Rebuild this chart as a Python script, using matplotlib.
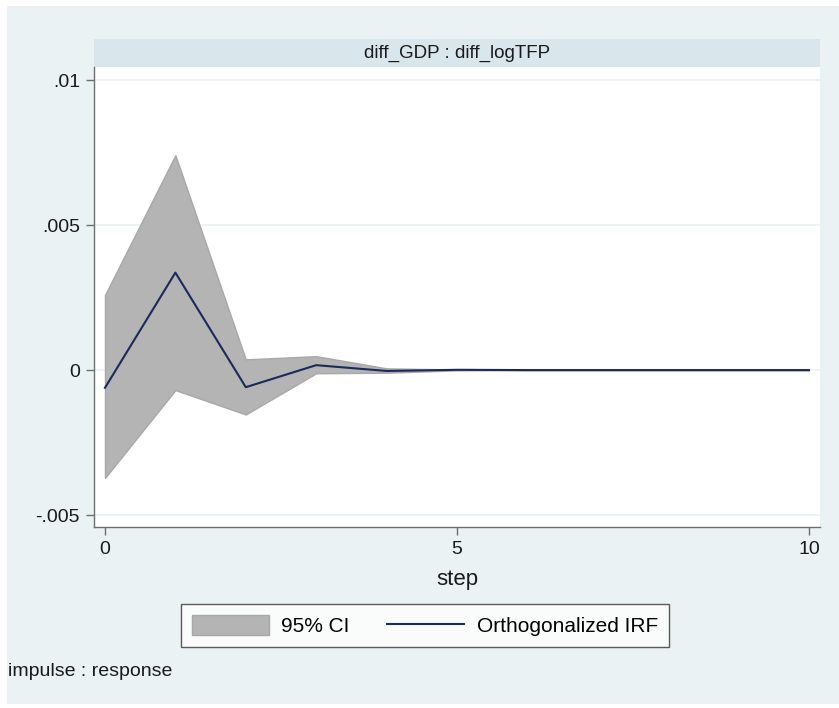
import matplotlib
matplotlib.use("Agg")
import matplotlib.pyplot as plt
from matplotlib.patches import Rectangle, Patch
from matplotlib.lines import Line2D

plt.rcParams['font.family'] = ['Liberation Sans', 'DejaVu Sans']

steps = [0, 1, 2, 3, 4, 5, 6, 7, 8, 9, 10]
irf = [-0.00061, 0.00336, -0.00059, 0.00017, -0.00003, 0.00001, 0.0, 0.0, 0.0, 0.0, 0.0]
ci_upper = [0.00259, 0.00741, 0.00037, 0.00048, 0.00006, 0.00002, 0.0, 0.0, 0.0, 0.0, 0.0]
ci_lower = [-0.00372, -0.00069, -0.00153, -0.00011, -0.00009, -0.00001, 0.0, 0.0, 0.0, 0.0, 0.0]
yticks = [-0.005, 0, 0.005, 0.01]
yticklabels = ['-.005', '0', '.005', '.01']
xticks = [0, 5, 10]
title = 'diff_GDP : diff_logTFP'

W, H = 839, 708
fig = plt.figure(figsize=(W / 100, H / 100), dpi=100)
fig.patch.set_facecolor('white')
bg = '#EAF2F3'
fig.patches.append(Rectangle((7 / W, 1 - 704 / H), (839 - 7) / W, (704 - 6) / H,
                             transform=fig.transFigure, facecolor=bg, edgecolor='none', zorder=-10))

def fx(px):
    return px / W

def fy(py):
    return 1 - py / H

# strip
sax = fig.add_axes([fx(94), fy(67), fx(820) - fx(94), fy(39) - fy(67)])
sax.set_facecolor('#D9E6EB')
sax.set_xticks([]); sax.set_yticks([])
for s in sax.spines.values():
    s.set_visible(False)
sax.text(0.5, 0.5, title, ha='center', va='center', fontsize=13.5, color='#1a1a1a', transform=sax.transAxes)

ax = fig.add_axes([fx(94), fy(527), fx(820) - fx(94), fy(67) - fy(527)])
ax.set_facecolor('white')
ax.fill_between(steps, ci_lower, ci_upper, facecolor='#B4B4B4', edgecolor='#A8A8A8', linewidth=1.0, zorder=2)
ax.plot(steps, irf, color='#1A2A5A', linewidth=1.5, zorder=3)

ax.set_xlim(-0.156, 10.156)
ax.set_ylim(-0.00541, 0.01045)
ax.set_yticks(yticks)
ax.set_yticklabels(yticklabels)
ax.set_xticks(xticks)
ax.grid(axis='y', color='#EAF2F3', linewidth=1.2, zorder=0)
ax.set_axisbelow(True)
for side in ['top', 'right']:
    ax.spines[side].set_visible(False)
for side in ['left', 'bottom']:
    ax.spines[side].set_color('#6e6e6e')
    ax.spines[side].set_linewidth(1.0)
ax.tick_params(axis='both', direction='out', length=6, width=1.0, color='#6e6e6e',
               labelsize=14, labelcolor='#1a1a1a', pad=4)
ax.set_xlabel('step', fontsize=16, color='#1a1a1a', labelpad=8)

handles = [Patch(facecolor='#B4B4B4', edgecolor='#A8A8A8', label='95% CI'),
           Line2D([0], [0], color='#1A2A5A', linewidth=1.5, label='Orthogonalized IRF')]
leg = fig.legend(handles=handles, ncol=2, loc='center', bbox_to_anchor=(fx(425), fy(625.5)),
                 frameon=True, fontsize=15, handlelength=3.7, handleheight=1.15,
                 columnspacing=1.8, handletextpad=0.6, borderpad=0.5, fancybox=False)
leg.get_frame().set_edgecolor('#333333')
leg.get_frame().set_linewidth(1.0)
leg.get_frame().set_facecolor('white')

fig.text(fx(8), fy(671), 'impulse : response', fontsize=14, color='#1a1a1a', va='center', ha='left')

fig.savefig('out.png', dpi=100, facecolor=fig.get_facecolor())
